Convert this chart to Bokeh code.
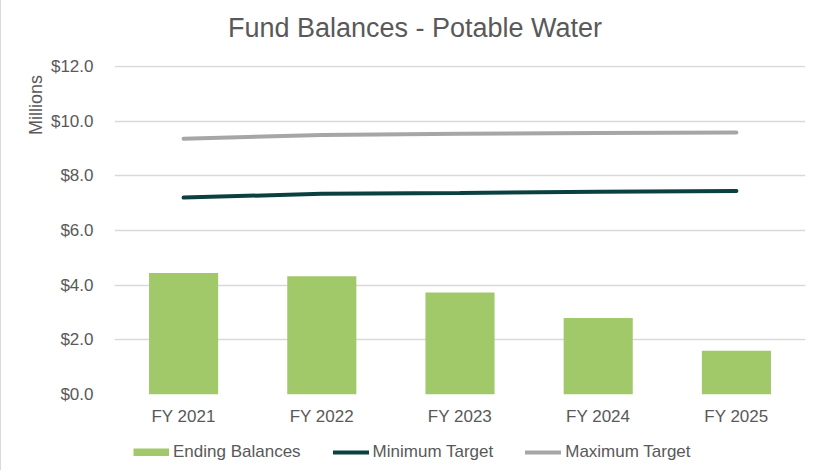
from bokeh.plotting import figure
from bokeh.layouts import column
from bokeh.models import (FactorRange, Range1d, NumeralTickFormatter, FixedTicker,
                          Legend, LegendItem, Title, Label, ColumnDataSource)
from bokeh.embed import file_html
from bokeh.resources import INLINE

title_text = "Fund Balances - Potable Water"
y_label = "Millions"
years = ["FY 2021", "FY 2022", "FY 2023", "FY 2024", "FY 2025"]
ending_balances = [4.44, 4.32, 3.73, 2.80, 1.60]
minimum_target = [7.20, 7.34, 7.37, 7.41, 7.44]
maximum_target = [9.35, 9.49, 9.53, 9.56, 9.58]
series_names = ["Ending Balances", "Minimum Target", "Maximum Target"]
y_ticks = [0, 2, 4, 6, 8, 10, 12]

TXT = "#595959"
FONT = "Liberation Sans"
C_BAR, C_MIN, C_MAX = "#A1C96A", "#0B4040", "#A6A6A6"
W, LEFT, RIGHT = 824, 113, 20
FW = W - LEFT - RIGHT

src = ColumnDataSource(dict(x=years, bal=ending_balances, mn=minimum_target, mx=maximum_target))


def strip(height, x_range, y_range):
    f = figure(width=W, height=height, output_backend="svg", toolbar_location=None,
               x_range=x_range, y_range=y_range, x_axis_type=None, y_axis_type=None,
               min_border_left=LEFT, min_border_right=RIGHT, min_border_top=0,
               min_border_bottom=0)
    f.outline_line_color = None
    f.xgrid.grid_line_color = None
    f.ygrid.grid_line_color = None
    return f


# title strip
top = strip(53, Range1d(0, FW), Range1d(0, 53))
top.add_layout(Label(x=300.5, y=25.5, text=title_text, text_align="center",
                     text_baseline="alphabetic", text_font=FONT, text_font_size="27px",
                     text_color=TXT))

# main chart
p = figure(width=W, height=382, output_backend="svg", toolbar_location=None,
           x_range=FactorRange(*years, range_padding=0), y_range=Range1d(0, 12.03),
           min_border_left=LEFT, min_border_right=RIGHT, min_border_top=12, min_border_bottom=41)
p.outline_line_color = None

p.vbar(x="x", top="bal", width=0.5, source=src, fill_color=C_BAR, line_color=None)
p.line(x="x", y="mn", source=src, line_color=C_MIN, line_width=4, line_cap="round")
p.line(x="x", y="mx", source=src, line_color=C_MAX, line_width=4, line_cap="round")

p.yaxis.ticker = FixedTicker(ticks=y_ticks)
p.yaxis.formatter = NumeralTickFormatter(format="$0.0")
for ax in (p.xaxis[0], p.yaxis[0]):
    ax.axis_line_color = None
    ax.major_tick_line_color = None
    ax.minor_tick_line_color = None
    ax.major_label_text_color = TXT
    ax.major_label_text_font = FONT
    ax.major_label_text_font_size = "17px"
p.yaxis.major_label_standoff = 15
p.xaxis.major_label_standoff = 6
p.xgrid.grid_line_color = None
p.ygrid.grid_line_color = "#D9D9D9"
p.ygrid.grid_line_width = 1.3

p.add_layout(Title(text=y_label, align="right", offset=9.5, text_font=FONT,
                   text_font_size="18px", text_font_style="normal", text_color=TXT,
                   standoff=3), "left")

# legend strip; its proxy glyphs use the real data but lie outside the strip's view
lg = strip(35, FactorRange(*years), Range1d(100, 101))
r_bar = lg.line(x="x", y="bal", source=src, line_color=C_BAR, line_width=8, line_cap="butt")
r_min = lg.line(x="x", y="mn", source=src, line_color=C_MIN, line_width=4, line_cap="round")
r_max = lg.line(x="x", y="mx", source=src, line_color=C_MAX, line_width=4, line_cap="round")
legend = Legend(items=[LegendItem(label=n, renderers=[r]) for n, r in
                       zip(series_names, [r_bar, r_min, r_max])],
                orientation="horizontal", location=(19, 8),
                glyph_width=36, glyph_height=8, label_standoff=4, spacing=32,
                padding=0, margin=0, border_line_color=None, background_fill_alpha=0,
                label_text_font=FONT, label_text_font_size="17px", label_text_color=TXT,
                label_height=20)
lg.add_layout(legend, "center")

layout = column(top, p, lg, spacing=0, styles={"border-left": "1px solid #D9D9D9"})
open("out.html", "w").write(file_html(layout, INLINE))
